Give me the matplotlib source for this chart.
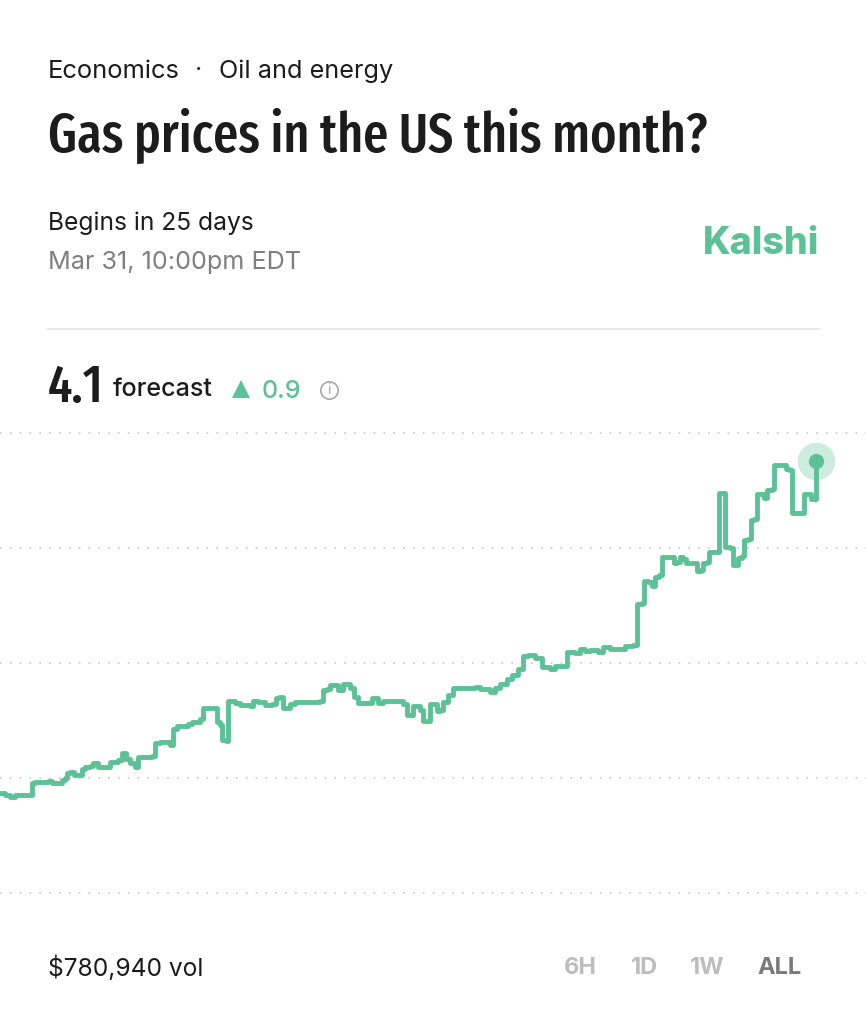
import matplotlib
matplotlib.use("Agg")
import matplotlib.pyplot as plt

# time step (roughly one step per pixel) and forecast value
t = [0, 5, 10, 15, 30, 32, 35, 48, 52, 60, 62, 65, 67, 70, 74, 78, 82, 85, 90, 93, 98, 108, 110, 118, 122, 126, 130, 135,
     138, 146, 152, 155, 160, 170, 173, 177, 188, 192, 200, 203, 214, 217, 220, 222, 226, 228, 235, 240, 250, 253, 258,
     265, 272, 276, 279, 283, 286, 290, 295, 320, 323, 327, 330, 338, 343, 350, 354, 358, 367, 372, 378, 383, 397, 403,
     407, 411, 413, 420, 423, 428, 430, 434, 437, 440, 443, 448, 453, 475, 480, 487, 490, 495, 500, 507, 512, 518, 523,
     528, 535, 542, 550, 555, 563, 567, 575, 580, 585, 590, 598, 603, 610, 625, 633, 636, 637, 642, 644, 648, 652, 655,
     659, 662, 670, 674, 677, 680, 683, 686, 694, 697, 701, 703, 707, 709, 717, 719, 723, 725, 730, 733, 737, 738, 742,
     744, 748, 751, 754, 757, 760, 764, 767, 772, 774, 783, 786, 789, 792, 802, 804, 807, 811, 814, 816]
forecast = [3.260, 3.255, 3.250, 3.255, 3.255, 3.287, 3.289, 3.292, 3.287, 3.287, 3.294, 3.300, 3.313, 3.315, 3.307,
            3.307, 3.323, 3.328, 3.331, 3.339, 3.328, 3.328, 3.341, 3.347, 3.365, 3.349, 3.339, 3.328, 3.354, 3.354,
            3.357, 3.391, 3.394, 3.386, 3.427, 3.435, 3.440, 3.446, 3.454, 3.482, 3.482, 3.446, 3.438, 3.399, 3.396,
            3.501, 3.495, 3.490, 3.487, 3.501, 3.498, 3.490, 3.493, 3.508, 3.511, 3.482, 3.482, 3.493, 3.498, 3.501,
            3.529, 3.532, 3.542, 3.529, 3.545, 3.534, 3.511, 3.495, 3.495, 3.508, 3.495, 3.501, 3.501, 3.493, 3.464,
            3.464, 3.487, 3.477, 3.448, 3.448, 3.493, 3.493, 3.474, 3.477, 3.498, 3.516, 3.534, 3.537, 3.532, 3.532,
            3.524, 3.534, 3.545, 3.558, 3.568, 3.584, 3.618, 3.621, 3.613, 3.589, 3.584, 3.592, 3.592, 3.628, 3.626,
            3.636, 3.631, 3.634, 3.628, 3.641, 3.636, 3.644, 3.647, 3.647, 3.754, 3.756, 3.814, 3.811, 3.801, 3.824,
            3.829, 3.876, 3.876, 3.861, 3.863, 3.876, 3.871, 3.861, 3.861, 3.840, 3.842, 3.861, 3.863, 3.889, 3.889,
            4.043, 4.043, 3.902, 3.900, 3.855, 3.855, 3.874, 3.879, 3.921, 3.923, 3.973, 3.976, 4.041, 4.041, 4.030,
            4.051, 4.054, 4.116, 4.116, 4.106, 4.103, 3.991, 3.991, 4.041, 4.041, 4.028, 4.028, 4.127]
grid_levels = [3.0, 3.3, 3.6, 3.9, 4.2]
ranges = ["6H", "1D", "1W", "ALL"]

GREEN = "#5cc196"
INK = "#1c1c1c"
plt.rcParams["font.family"] = ["Inter", "DejaVu Sans"]
NARROW = ["Fira Sans Extra Condensed", "Barlow Condensed", "Liberation Sans", "DejaVu Sans"]

fig = plt.figure(figsize=(8.66, 10.24), dpi=100, facecolor="white")

# page layer, in pixels
page = fig.add_axes([0, 0, 1, 1])
page.set_xlim(0, 866)
page.set_ylim(1024, 0)
page.axis("off")

page.text(48, 71, "Economics", fontsize=18.4, color=INK, va="center")
page.text(199, 70, "·", fontsize=18, color=INK, va="center", ha="center")
page.text(219, 71, "Oil and energy", fontsize=18.2, color=INK, va="center")
page.text(48, 136, "Gas prices in the US this month?", fontsize=39, fontweight=500, color=INK, va="center",
          family=NARROW)
page.text(48, 223, "Begins in 25 days", fontsize=17.7, color=INK, va="center")
page.text(48, 262, "Mar 31, 10:00pm EDT", fontsize=18.1, color="#7f7f7f", va="center")
page.text(819, 244, "Kalshi", fontsize=27, fontweight=800, color=GREEN, va="center", ha="right")
page.plot([47, 819], [329, 329], color="#e6e6e6", lw=1.2)

page.text(48, 388, "4.1", fontsize=38, color=INK, va="center", family=NARROW, fontweight=500)
page.text(113, 390, "forecast", fontsize=18.1, fontweight="medium", color=INK, va="center")
page.plot([241], [389], marker="^", ms=13, color=GREEN, mew=0)
page.text(262, 391, "0.9", fontsize=18, fontweight="medium", color=GREEN, va="center")
page.plot([329], [390], marker="o", ms=12.5, mfc="none", mec="#a8a8a8", mew=1.2)
page.text(329, 390, "i", fontsize=10, color="#a8a8a8", va="center", ha="center")

page.text(48, 968, "$780,940 vol", fontsize=17.7, color=INK, va="center")
for name, x in zip(ranges, [580, 644, 707, 780]):
    col = "#7a7a7a" if name == "ALL" else "#bdbdbd"
    page.text(x, 968, name, fontsize=17, fontweight="bold", color=col, va="center", ha="center")

# chart
ax = fig.add_axes([0, 1 - 893 / 1024, 1, 460 / 1024])
ax.patch.set_alpha(0)
ax.set_xlim(0, 866)
ax.set_ylim(3.0, 4.2)
ax.axis("off")
for g in grid_levels:
    ax.axhline(g, color="#c8c8c8", lw=1.2, ls=(0, (1, 4.9)), clip_on=False)
ax.plot(t, forecast, color=GREEN, lw=3.5, drawstyle="steps-post", solid_joinstyle="round",
        solid_capstyle="round", clip_on=False)
ax.plot(t[-1], forecast[-1], marker="o", ms=27, color=GREEN, alpha=0.3, mew=0, clip_on=False)
ax.plot(t[-1], forecast[-1], marker="o", ms=11, color=GREEN, mew=0, clip_on=False)

fig.savefig("out.png", dpi=100)
